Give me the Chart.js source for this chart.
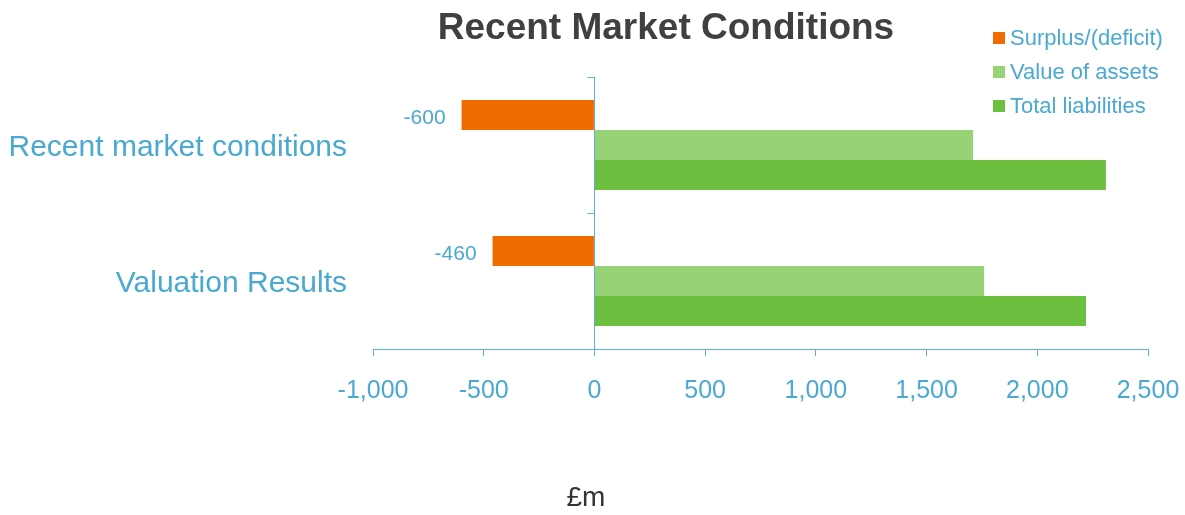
<!DOCTYPE html>
<html>
<head>
<meta charset="utf-8">
<title>Recent Market Conditions</title>
<script src="https://cdn.jsdelivr.net/npm/chart.js@4.4.1/dist/chart.umd.min.js"></script>
<style>
    html, body { margin: 0; padding: 0; background: #ffffff; }
    #wrap { position: relative; width: 1185px; height: 515px; }
</style>
</head>
<body>
<div id="wrap"><canvas id="marketChart" width="1185" height="515"></canvas></div>
<script>
// Chart data
const categories = ['Recent market conditions', 'Valuation Results'];
const seriesNames = ['Surplus/(deficit)', 'Value of assets', 'Total liabilities'];
const surplus = [-600, -460];
const assets = [1710, 1760];
const liabilities = [2310, 2220];
const xMin = -1000;
const xMax = 2500;
const xStep = 500;

// Look
const FONT = "'Liberation Sans', Arial, sans-serif";
const BLUE = '#4aa9d0';
const AXIS_BLUE = '#5ab2d6';
const COLORS = ['#f06c00', '#98d277', '#6cbf3f'];

function formatNumber(value) {
    return new Intl.NumberFormat('en-US').format(value);
}

// Title, legend, value labels and the little category ticks on the zero line
const decorations = {
    id: 'decorations',
    afterDraw(chart) {
        const ctx = chart.ctx;
        const xScale = chart.scales.x;
        const yScale = chart.scales.y;
        ctx.save();

        // title
        ctx.fillStyle = '#404040';
        ctx.font = `bold 37px ${FONT}`;
        ctx.textAlign = 'center';
        ctx.textBaseline = 'middle';
        ctx.fillText('Recent Market Conditions', 666, 29);

        // legend
        ctx.font = `22px ${FONT}`;
        ctx.textAlign = 'left';
        chart.data.datasets.forEach((ds, i) => {
            const y = 38 + i * 34;
            ctx.fillStyle = ds.backgroundColor;
            ctx.fillRect(993, y - 6, 12, 12);
            ctx.fillStyle = BLUE;
            ctx.fillText(ds.label, 1010, y + 1);
        });

        // value labels on the surplus bars
        ctx.font = `21px ${FONT}`;
        ctx.textAlign = 'right';
        ctx.fillStyle = BLUE;
        chart.getDatasetMeta(0).data.forEach((bar, i) => {
            const left = Math.min(bar.x, bar.base);
            ctx.fillText(String(surplus[i]), left - 16, bar.y + 3);
        });

        // category boundary ticks next to the zero line
        const x0 = xScale.getPixelForValue(0);
        const half = (yScale.getPixelForValue(1) - yScale.getPixelForValue(0)) / 2;
        ctx.strokeStyle = AXIS_BLUE;
        ctx.lineWidth = 1;
        categories.forEach((c, i) => {
            const y = Math.round(yScale.getPixelForValue(i) - half) + 0.5;
            ctx.beginPath();
            ctx.moveTo(x0 - 7, y);
            ctx.lineTo(x0, y);
            ctx.stroke();
        });

        // axis unit
        ctx.fillStyle = '#333333';
        ctx.font = `28px ${FONT}`;
        ctx.textAlign = 'center';
        ctx.fillText('£m', 586, 498);

        ctx.restore();
    }
};

const ctx = document.getElementById('marketChart').getContext('2d');
const chart = new Chart(ctx, {
    type: 'bar',
    data: {
        labels: categories,
        datasets: [
            { label: seriesNames[0], data: surplus, backgroundColor: COLORS[0] },
            { label: seriesNames[1], data: assets, backgroundColor: COLORS[1] },
            { label: seriesNames[2], data: liabilities, backgroundColor: COLORS[2] }
        ]
    },
    options: {
        indexAxis: 'y',
        responsive: false,
        animation: false,
        devicePixelRatio: 1,
        categoryPercentage: 0.662,
        barPercentage: 1,
        layout: {
            padding: { top: 77, right: 37, left: 0, bottom: 0 }
        },
        plugins: {
            legend: { display: false },
            title: { display: false },
            tooltip: { enabled: false }
        },
        scales: {
            x: {
                type: 'linear',
                min: xMin,
                max: xMax,
                afterFit: (scale) => {
                    scale.height = 166;
                    scale.paddingLeft = 0;
                    scale.paddingRight = 0;
                },
                ticks: {
                    stepSize: xStep,
                    color: BLUE,
                    padding: 20,
                    font: { family: FONT, size: 25 },
                    callback: (value) => formatNumber(value)
                },
                grid: {
                    color: (c) => (c.tick && c.tick.value === 0 ? AXIS_BLUE : 'rgba(0,0,0,0)'),
                    tickColor: AXIS_BLUE,
                    tickLength: 7,
                    lineWidth: 1
                },
                border: { display: true, color: AXIS_BLUE, width: 1 }
            },
            y: {
                afterFit: (scale) => {
                    scale.width = 373;
                    scale.paddingTop = 0;
                    scale.paddingBottom = 0;
                },
                ticks: {
                    color: BLUE,
                    padding: 18,
                    labelOffset: 3,
                    font: { family: FONT, size: 30 }
                },
                grid: { display: false },
                border: { display: false }
            }
        }
    },
    plugins: [decorations]
});
</script>
</body>
</html>
